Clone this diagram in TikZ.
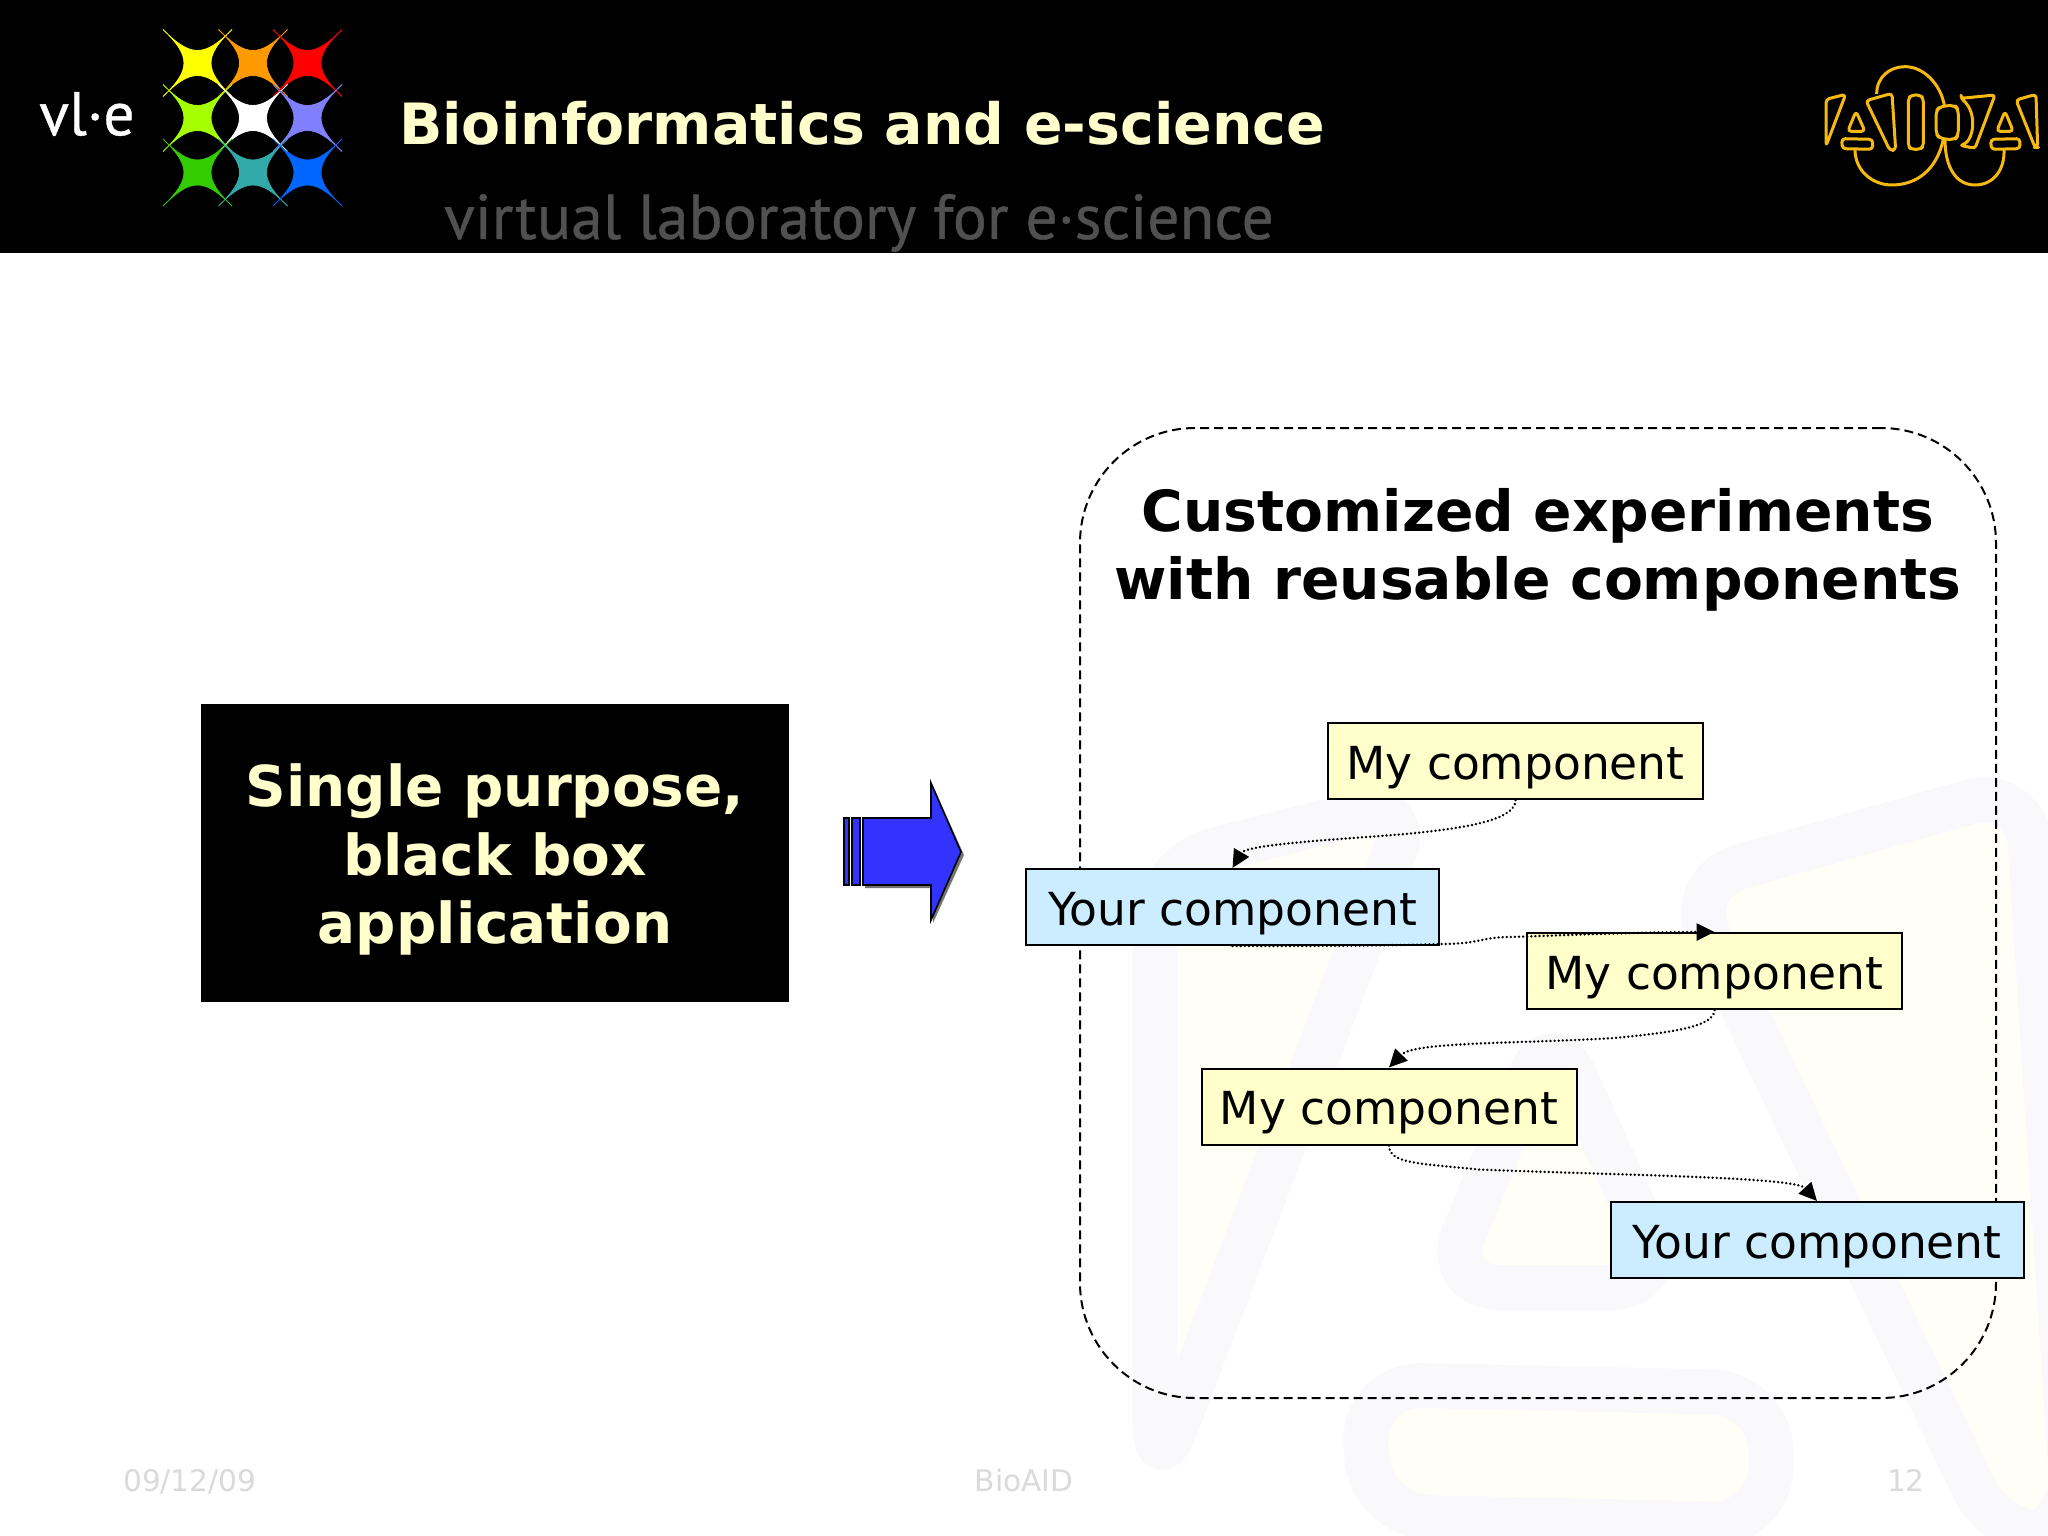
\documentclass[tikz,border=0pt]{standalone}
\usepackage{fontspec}
\setmainfont{DejaVu Sans}
\newfontfamily\dinfont[FakeBold=0.6]{PT Sans}
\usetikzlibrary{arrows.meta}
\definecolor{cream}{HTML}{FFFFCC}
\definecolor{bluebox}{HTML}{CCECFF}
\definecolor{logogold}{HTML}{F5B90F}
\definecolor{wmstroke}{HTML}{F9F9FB}
\definecolor{wmfill}{HTML}{FFFFF7}
\definecolor{footgray}{HTML}{DADADA}
\definecolor{subgray}{HTML}{505050}
\definecolor{arrowblue}{HTML}{3333FF}
\definecolor{sYellow}{HTML}{FFFF00}
\definecolor{sOrange}{HTML}{FF9900}
\definecolor{sRed}{HTML}{FF0000}
\definecolor{sLime}{HTML}{A6FF00}
\definecolor{sPeri}{HTML}{8080FF}
\definecolor{sGreen}{HTML}{33CC00}
\definecolor{sTeal}{HTML}{33AAAA}
\definecolor{sBlue}{HTML}{0066FF}
\newcommand{\mytris}[1]{%
  \path[rounded corners=#1] (138,178) -- (197,163) -- (138,318) -- cycle;
  \path[rounded corners=#1] (228,214) -- (255,274) -- (203,274) -- cycle;
  \path[rounded corners=#1] (185,296) -- (278,298) -- (278,328) -- (187,326) -- cycle;
  \path[rounded corners=#1] (258,182) -- (336,160) -- (347,330) -- (330,332) -- cycle;
}
\newcommand{\mystar}[3]{%
  \filldraw[#3,line width=0.8pt,line join=miter] (#1-34.5,#2-33.5) .. controls (#1-7,#2-5.5) and (#1+7,#2-5.5) .. (#1+34.5,#2-33.5)
    .. controls (#1+6.5,#2-7) and (#1+6.5,#2+7) .. (#1+34.5,#2+33.5)
    .. controls (#1+7,#2+5.5) and (#1-7,#2+5.5) .. (#1-34.5,#2+33.5)
    .. controls (#1-6.5,#2+7) and (#1-6.5,#2-7) .. (#1-34.5,#2-33.5) -- cycle;}
\tikzset{
  comp/.style={draw=black,line width=2pt,minimum width=#1,minimum height=76pt,inner sep=0pt,text height=36pt,text depth=0pt,font=\fontsize{45.5}{54}\selectfont,text=black},
  mine/.style={comp=375pt,fill=cream},
  yours/.style={comp=413pt,fill=bluebox},
  conn/.style={line width=2.6pt,line cap=round,dash pattern=on 0.1pt off 4pt,-{Triangle[length=18pt,width=17pt]}},
  foot/.style={text=footgray,font=\fontsize{29.7}{35}\selectfont,inner sep=0pt,text height=22pt,text depth=0pt},
  wm/.style={draw=wmstroke,fill=wmfill,line width=45pt,line join=round},
  logoline/.style={draw=logogold,line width=3pt,line join=round}
}
\begin{document}
\begin{tikzpicture}[x=1pt,y=-1pt]
\useasboundingbox (0,0) rectangle (2048,1536);
\fill[white] (0,0) rectangle (2048,1536);
% watermark
\begin{scope}[shift={(548,82)},x=4.4pt,y=-4.4pt,every path/.append style={wm}]
  \mytris{60pt}
\end{scope}
% header
\fill[black] (0,0) rectangle (2048,252.5);
\node[text=white,font=\dinfont\fontsize{61.5}{64}\selectfont,inner sep=0pt] (vle) at (87,114) {vl·e};
\mystar{197.5}{63}{sYellow}
\mystar{253}{63}{sOrange}
\mystar{307.5}{63}{sRed}
\mystar{197.5}{118}{sLime}
\mystar{253}{118}{white}
\mystar{307.5}{118}{sPeri}
\mystar{197.5}{172.5}{sGreen}
\mystar{253}{172.5}{sTeal}
\mystar{307.5}{172.5}{sBlue}
\node[text=cream,font=\bfseries\fontsize{56.9}{64}\selectfont,inner sep=0pt] (title) at (862,123) {Bioinformatics and e-science};
\node[text=subgray,font=\dinfont\fontsize{63.6}{68}\selectfont,inner sep=0pt] (sub) at (859,223) {virtual laboratory for e·science};
% logo
\begin{scope}[shift={(1780,40)},x=0.3333pt,y=-0.3333pt]
  \begin{scope}[every path/.append style={logoline}]
    \mytris{3.5pt}
    \path[rounded corners=3.5pt] (395,165) -- (420,165) -- (430,175) -- (430,320) -- (420,328) -- (395,328) -- (385,320) -- (385,175) -- cycle;
    \path[rounded corners=5pt] (478,200) -- (525,195) -- (535,210) -- (535,285) -- (525,300) -- (478,295) -- (468,280) -- (468,215) -- cycle;
    \path (290,162) .. controls (290,110) and (330,80) .. (375,80) .. controls (430,80) and (480,130) .. (493,195);
    \path (225,328) .. controls (225,395) and (280,435) .. (335,435) .. controls (410,435) and (470,390) .. (490,298);
    \path (495,298) .. controls (495,385) and (530,435) .. (585,435) .. controls (640,435) and (675,390) .. (672,328);
    \path[rounded corners=3pt] (543,175) -- (645,165) -- (585,325) -- (540,316) .. controls (580,305) and (595,220) .. (543,175) -- cycle;
    \path[rounded corners=3.5pt] (675,214) -- (700,274) -- (650,274) -- cycle;
    \path[rounded corners=3.5pt] (632,298) -- (720,296) -- (720,326) -- (634,328) -- cycle;
    \path[rounded corners=3.5pt] (708,180) -- (768,163) -- (773,322) -- (765,322) -- cycle;
  \end{scope}
\end{scope}
% black box
\node[fill=black,minimum width=588pt,minimum height=298pt,inner sep=0pt] (blackbox) at (495,853) {};
\node[align=center,text=cream,inner sep=0pt,font=\bfseries\fontsize{56.4}{68.5}\selectfont] (blacktext) at (495,859.5) {Single purpose,\\black box\\application};
% big arrow
\fill[black!55] (865,821) -- (933,821) -- (933,786) -- (964,855) -- (933,923) -- (933,888) -- (865,888) -- cycle;
\draw[black,line width=1.6pt,fill=arrowblue] (863,818) -- (931,818) -- (931,783) -- (961,852) -- (931,920) -- (931,885) -- (863,885) -- cycle;
\draw[black,line width=1.6pt,fill=arrowblue] (852,818) rectangle (860,885);
\draw[black,line width=1.6pt,fill=arrowblue] (844,818) rectangle (849,885);
% frame
\node[draw=black,line width=2pt,dash pattern=on 9pt off 5pt,rounded corners=115pt,minimum width=916pt,minimum height=970pt,inner sep=0pt] (frame) at (1538,913) {};
\node[align=center,text=black,font=\bfseries\fontsize{56.7}{68}\selectfont,inner sep=0pt] (heading) at (1538,550) {Customized experiments\\with reusable components};
% components
\node[mine] (my1) at (1515.5,761) {My component};
\node[yours] (your1) at (1232.5,907) {Your component};
\node[mine] (my2) at (1714.5,971) {My component};
\node[mine] (my3) at (1389,1106.5) {My component};
\node[yours] (your2) at (1817,1240) {Your component};
% connectors
\draw[conn] (my1.south) .. controls +(0,22) and +(50,-5) .. ++(-110,34) .. controls +(-60,5) and +(14,-24) .. (your1.north);
\draw[conn] (your1.south) .. controls +(60,0) and +(-60,2) .. ++(208,-2) .. controls +(40,0) and +(-30,0) .. ++(70,-7) .. controls +(60,-2) and +(-70,0) .. (my2.north);
\draw[conn] (my2.south) .. controls +(0,18) and +(50,-5) .. ++(-100,28) .. controls +(-100,6) and +(25,-26) .. (my3.north);
\draw[conn] (my3.south) .. controls +(0,18) and +(-60,-6) .. ++(90,24) .. controls +(150,6) and +(-22,-24) .. (your2.north);
% footer
\node[foot,anchor=west] (date) at (123,1480) {09/12/09};
\node[foot] (name) at (1024,1480) {BioAID};
\node[foot,anchor=east] (page) at (1925,1480) {12};
\end{tikzpicture}
\end{document}
